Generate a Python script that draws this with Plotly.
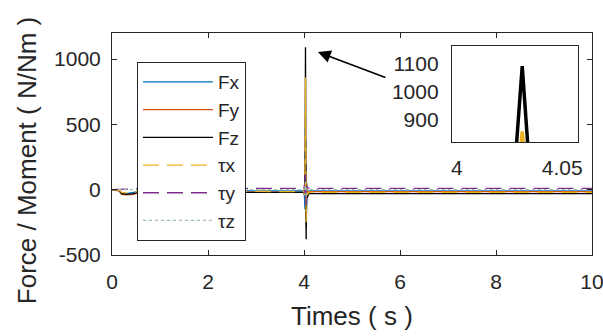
import plotly.graph_objects as go

# ---- data ----
t = [0, 0.15, 0.2, 0.3, 0.45, 0.55, 1, 2, 3, 3.99, 4.0, 4.01, 4.02, 4.031, 4.045, 4.055, 4.07, 4.1, 4.2, 5, 6, 7, 8, 9, 10]
Fx = [0, -5, -25, -30, -20, -8, -8, -8, -8, -8, -10, -60, -150, 300, -290, -120, -20, -10, -10, -10, -10, -10, -10, -10, -10]
Fy = [0, -10, -35, -40, -35, -18, -15, -15, -15, -15, -20, 30, -40, 200, -220, 40, -30, -15, -15, -15, -15, -15, -15, -15, -15]
Fz = [0, -5, -30, -35, -30, -22, -20, -20, -20, -20, -20, -40, -20, 1090, -380, 50, -60, -30, -30, -30, -30, -30, -30, -30, -30]
Tx = [0, -5, -20, -25, -20, -10, -10, -10, -10, -10, -15, -40, -30, 860, -250, 60, -40, -20, -20, -20, -20, -20, -20, -20, -20]
Ty = [0, 5, 5, 5, 5, 8, 8, 8, 8, 8, 10, 40, -30, 120, -120, 30, 15, 10, 10, 10, 10, 10, 10, 10, 10]
Tz = [0, 0, -5, -5, -5, 0, 0, 0, 0, 0, 0, 10, -10, 60, -60, 10, 0, 0, 0, 0, 0, 0, 0, 0, 0]

names = ["Fx", "Fy", "Fz", "τx", "τy", "τz"]
series = [Fx, Fy, Fz, Tx, Ty, Tz]
colors = ["#0072BD", "#D95319", "#000000", "#EDB120", "#7E2F8E", "#9fbfa8"]
dashes = ["solid", "solid", "solid", "16px,8px", "16px,8px", "dot"]

x_ticks = [0, 2, 4, 6, 8, 10]
y_ticks = [-500, 0, 500, 1000]
inset_x_ticks = [4, 4.05]
inset_y_ticks = [900, 1000, 1100]

FONT = "Liberation Sans, Arial, sans-serif"
TXT = "#262626"

fig = go.Figure()
for i, (n, s, c, d) in enumerate(zip(names, series, colors, dashes)):
    fig.add_trace(go.Scatter(
        x=t, y=s, name=n, mode="lines", legendgroup=n,
        line=dict(color=c, width=1.3, dash=d),
    ))

# inset: Fz and tau_x around the peak
for idx in [2, 3]:
    fig.add_trace(go.Scatter(
        x=t, y=series[idx], mode="lines", showlegend=False,
        line=dict(color=colors[idx], width=3.5),
        xaxis="x2", yaxis="y2", cliponaxis=True,
    ))

fig.update_layout(
    width=603, height=336,
    margin=dict(l=112, r=11, t=33, b=81, autoexpand=False),
    paper_bgcolor="white", plot_bgcolor="white",
    font=dict(family=FONT, color=TXT, size=21),
    showlegend=True,
    legend=dict(
        x=0.052, y=0.869, xanchor="left", yanchor="top",
        bgcolor="white", bordercolor="#262626", borderwidth=1,
        font=dict(family=FONT, size=19, color=TXT),
        itemwidth=70, tracegroupgap=0,
    ),
    xaxis=dict(
        range=[0, 10], tickvals=x_ticks, ticktext=[str(v) for v in x_ticks],
        showline=True, linecolor="#262626", linewidth=1, mirror="ticks",
        ticks="inside", ticklen=5, tickcolor="#262626", automargin=False,
        showgrid=False, zeroline=False, ticklabelstandoff=8,
        ticklabeloverflow="allow",
        tickfont=dict(size=21, color=TXT),
    ),
    yaxis=dict(
        range=[-500, 1200], tickvals=y_ticks, ticktext=[str(v) for v in y_ticks],
        showline=True, linecolor="#262626", linewidth=1, mirror="ticks",
        ticks="inside", ticklen=5, tickcolor="#262626", automargin=False,
        showgrid=False, zeroline=False, ticklabelstandoff=6,
        ticklabeloverflow="allow",
        tickfont=dict(size=21, color=TXT),
    ),
    xaxis2=dict(
        domain=[0.708, 0.971], anchor="y2",
        range=[3.9976, 4.0575], tickvals=inset_x_ticks, ticktext=["4", "4.05"],
        showline=True, linecolor="#262626", linewidth=1, mirror=True, automargin=False,
        ticks="", showgrid=False, zeroline=False, ticklabelstandoff=7,
        ticklabeloverflow="allow",
        tickfont=dict(size=21, color=TXT),
    ),
    yaxis2=dict(
        domain=[0.509, 0.941], anchor="x2",
        range=[823, 1160], tickvals=inset_y_ticks, ticktext=[str(v) for v in inset_y_ticks],
        showline=True, linecolor="#262626", linewidth=1, mirror=True, automargin=False,
        ticks="", showgrid=False, zeroline=False, ticklabelstandoff=8,
        ticklabeloverflow="allow",
        tickfont=dict(size=21, color=TXT),
    ),
    annotations=[
        dict(text="Times ( s )", xref="paper", yref="paper", x=0.5, y=-0.275,
             xanchor="center", yanchor="middle", showarrow=False,
             font=dict(size=26, color=TXT, family=FONT)),
        dict(text="Force / Moment ( N/Nm )", xref="paper", yref="paper",
             x=-0.178, y=0.425, xanchor="center", yanchor="middle",
             textangle=-90, showarrow=False,
             font=dict(size=26, color=TXT, family=FONT)),
        dict(x=4.29, y=1054, xref="x", yref="y", ax=69, ay=26,
             showarrow=True, arrowhead=2, arrowsize=1.6, arrowwidth=1.6,
             arrowcolor="#000000", text=""),
    ],
)

fig.write_html("out.html")
